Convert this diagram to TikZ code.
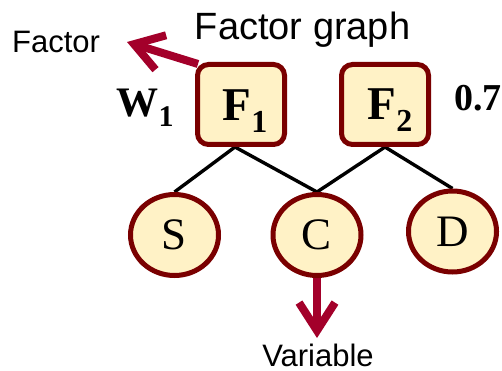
\documentclass[tikz,border=0pt]{standalone}
\usepackage{fontspec}
\setmainfont{Liberation Serif}
\newfontfamily\sansf{Liberation Sans}
\usetikzlibrary{shapes.geometric,arrows.meta,backgrounds}
\definecolor{bord}{HTML}{7A0000}
\definecolor{cream}{HTML}{FFF2C6}
\definecolor{crim}{HTML}{A3002A}
\begin{document}
\begin{tikzpicture}[x=1pt,y=-1pt,
  factorbox/.style={draw=bord,fill=cream,line width=5pt,rounded corners=11pt,minimum width=87pt,minimum height=80pt,inner sep=0pt},
  ftext/.style={font=\bfseries\fontsize{47}{47}\selectfont,anchor=base,inner sep=0pt},
  varnode/.style={ellipse,draw=bord,fill=cream,line width=5pt,minimum width=88pt,minimum height=81pt,inner sep=0pt,font=\fontsize{45}{45}\selectfont},
  edge/.style={line width=3.4pt,black},
  pointer/.style={draw=crim,line width=8pt,-{Straight Barb[length=28pt,width=36pt]}},
  lbl/.style={font=\sansf\fontsize{31}{31}\selectfont,anchor=base},
  wlbl/.style={font=\bfseries\fontsize{42}{42}\selectfont,anchor=base,inner sep=0pt}]
\useasboundingbox (0,0) rectangle (502,371);
\node[factorbox] (F1) at (241,104.5) {};
\node[factorbox] (F2) at (385,104.5) {};
\node[ftext] (F1t) at (245,121) {F\raisebox{-12pt}{\fontsize{32}{32}\selectfont 1}};
\node[ftext] (F2t) at (390,120) {F\raisebox{-12pt}{\fontsize{32}{32}\selectfont 2}};
\node[varnode] (S) at (174.5,235) {S};
\node[varnode] (C) at (317,235) {C};
\node[varnode] (D) at (452.5,231.5) {D};
\node[lbl,font=\sansf\fontsize{38}{38}\selectfont] (title) at (302.5,40) {Factor graph};
\node[lbl] (factorlbl) at (56,53) {Factor};
\node[lbl] (varlbl) at (318,366) {Variable};
\node[wlbl] (w1) at (145,117) {W\raisebox{-10pt}{\fontsize{30}{30}\selectfont 1}};
\node[wlbl,font=\bfseries\fontsize{38}{38}\selectfont,anchor=base west] (w2) at (454,111) {0.7};
\coordinate (ftip) at (127,42);
\coordinate (vtip) at (317,338);
\begin{scope}[on background layer]
  \draw[edge] ([xshift=-6pt]F1.south) -- (S.north);
  \draw[edge] ([xshift=-6pt]F1.south) -- (C.north);
  \draw[edge] (F2.south) -- (C.north);
  \draw[edge] (F2.south) -- (D.north);
  \draw[pointer] ([shift={(3pt,-2pt)}]F1.north west) -- (ftip);
  \draw[pointer] (C.south) -- (vtip);
\end{scope}
\end{tikzpicture}
\end{document}
